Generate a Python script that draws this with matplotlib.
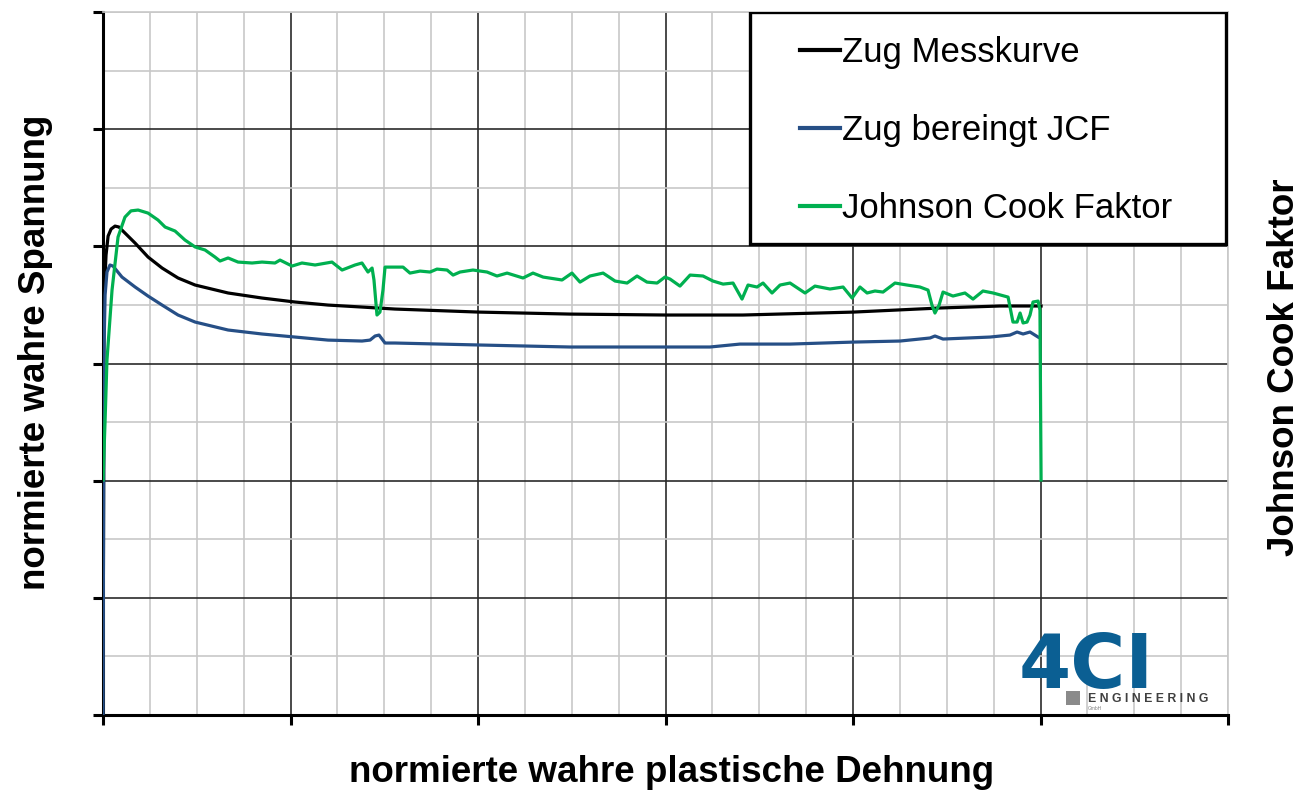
import numpy as np
import matplotlib
matplotlib.use("Agg")
import matplotlib.pyplot as plt
from matplotlib.patches import Rectangle

plt.rcParams['font.family'] = ['Liberation Sans', 'DejaVu Sans']

# normierte Werte (Achsen ohne Beschriftung, 0..6 Einheiten)
zug_x = [0, 0.003, 0.005, 0.016, 0.027, 0.043, 0.064, 0.085, 0.101, 0.171, 0.240, 0.315,
         0.400, 0.491, 0.667, 0.848, 1.024, 1.200, 1.381, 1.557, 2.005, 2.491, 3.003,
         3.413, 4.000, 4.464, 4.784, 4.987, 5.003]
zug_y = [0, 1.835, 3.542, 3.926, 4.088, 4.148, 4.173, 4.165, 4.139, 4.028, 3.909, 3.815,
         3.730, 3.670, 3.602, 3.559, 3.525, 3.499, 3.482, 3.465, 3.439, 3.422, 3.414,
         3.414, 3.439, 3.474, 3.491, 3.491, 3.491]

jcf_korr_x = [0, 0.003, 0.005, 0.011, 0.021, 0.037, 0.053, 0.101, 0.171, 0.240, 0.315,
              0.400, 0.491, 0.667, 0.848, 1.024, 1.200, 1.381, 1.424, 1.451, 1.472, 1.504,
              1.557, 2.011, 2.491, 3.008, 3.237, 3.397, 3.664, 4.000, 4.251, 4.411, 4.437,
              4.480, 4.731, 4.837, 4.875, 4.907, 4.944, 4.987]
jcf_korr_y = [0, 1.835, 3.115, 3.585, 3.781, 3.841, 3.832, 3.738, 3.653, 3.576, 3.499,
              3.414, 3.354, 3.286, 3.252, 3.226, 3.200, 3.192, 3.200, 3.235, 3.243, 3.175,
              3.175, 3.158, 3.141, 3.141, 3.141, 3.166, 3.166, 3.183, 3.192, 3.218, 3.235,
              3.209, 3.226, 3.243, 3.269, 3.252, 3.269, 3.226]

jc_x = [0, 0.011, 0.021, 0.048, 0.080, 0.117, 0.149, 0.187, 0.240, 0.293, 0.331, 0.384,
        0.437, 0.491, 0.544, 0.597, 0.624, 0.667, 0.720, 0.795, 0.848, 0.917, 0.944,
        1.008, 1.061, 1.131, 1.221, 1.275, 1.344, 1.381, 1.413, 1.435, 1.445, 1.461,
        1.477, 1.493, 1.504, 1.600, 1.637, 1.691, 1.744, 1.781, 1.835, 1.867, 1.904,
        1.973, 2.048, 2.101, 2.155, 2.240, 2.293, 2.347, 2.448, 2.501, 2.544, 2.597,
        2.667, 2.731, 2.795, 2.848, 2.901, 2.955, 2.997, 3.024, 3.077, 3.131, 3.200,
        3.253, 3.307, 3.360, 3.387, 3.408, 3.440, 3.488, 3.520, 3.568, 3.611, 3.664,
        3.744, 3.797, 3.877, 3.947, 3.995, 4.037, 4.075, 4.117, 4.160, 4.224, 4.288,
        4.357, 4.400, 4.421, 4.437, 4.459, 4.480, 4.533, 4.597, 4.640, 4.693, 4.747,
        4.827, 4.853, 4.875, 4.891, 4.907, 4.928, 4.944, 4.960, 4.987, 4.997, 5.003]
jc_y = [2.006, 2.518, 3.030, 3.627, 4.080, 4.250, 4.303, 4.310, 4.284, 4.225, 4.165, 4.131,
        4.054, 3.995, 3.969, 3.909, 3.875, 3.901, 3.866, 3.858, 3.866, 3.858, 3.883,
        3.832, 3.858, 3.841, 3.866, 3.798, 3.841, 3.858, 3.781, 3.815, 3.713, 3.414,
        3.439, 3.627, 3.823, 3.823, 3.772, 3.789, 3.781, 3.806, 3.798, 3.755, 3.781,
        3.798, 3.781, 3.747, 3.772, 3.730, 3.772, 3.738, 3.713, 3.772, 3.695, 3.747,
        3.772, 3.704, 3.687, 3.747, 3.695, 3.687, 3.738, 3.721, 3.661, 3.755, 3.747,
        3.704, 3.678, 3.687, 3.610, 3.550, 3.670, 3.653, 3.687, 3.602, 3.670, 3.687,
        3.602, 3.661, 3.636, 3.653, 3.559, 3.653, 3.602, 3.619, 3.610, 3.687, 3.670,
        3.653, 3.627, 3.499, 3.431, 3.499, 3.610, 3.576, 3.602, 3.550, 3.619, 3.602,
        3.567, 3.354, 3.354, 3.431, 3.346, 3.354, 3.414, 3.525, 3.533, 3.456, 2.006]

labels = ["Zug Messkurve", "Zug bereingt JCF", "Johnson Cook Faktor"]
farben = ["#000000", "#264f86", "#00b050"]

fig = plt.figure(figsize=(13.01, 7.92), dpi=100)
ax = fig.add_axes([0.0792, 0.0972, 0.8647, 0.8876])
ax2 = ax.twinx()

ax.set_xlim(0, 6)
ax.set_ylim(0, 6)
ax2.set_ylim(0, 6)

# Gitter
ax.set_xticks(np.arange(0, 7, 1))
ax.set_yticks(np.arange(0, 7, 1))
ax.set_xticks(np.arange(0, 6.01, 0.25), minor=True)
ax.set_yticks(np.arange(0, 6.01, 0.5), minor=True)
ax.grid(which='minor', color='#c8c8c8', lw=1.2)
ax.grid(which='major', color='#2a2a2a', lw=1.2)
ax.get_xgridlines()[-1].set_color('#c8c8c8')
ax.get_ygridlines()[-1].set_color('#c8c8c8')
ax.set_axisbelow(True)
ax.tick_params(which='major', direction='out', length=7, width=2.2,
               labelbottom=False, labelleft=False)
ax.tick_params(which='minor', length=0)
for s in ['left', 'bottom']:
    ax.spines[s].set_linewidth(2.2)
    ax.spines[s].set_color('black')
for s in ['top', 'right']:
    ax.spines[s].set_color('#c8c8c8')
    ax.spines[s].set_linewidth(1.2)
for s in ax2.spines.values():
    s.set_visible(False)
ax2.set_yticks([])

l1, = ax.plot(zug_x, zug_y, color=farben[0], lw=2.3, label=labels[0], zorder=3)
l2, = ax.plot(jcf_korr_x, jcf_korr_y, color=farben[1], lw=2.3, label=labels[1], zorder=4)
l3, = ax2.plot(jc_x, jc_y, color=farben[2], lw=2.3, label=labels[2], zorder=3)

# Achsentitel
fig.text(672 / 1301, 1 - 772 / 792, "normierte wahre plastische Dehnung", fontsize=26.5,
         fontweight='bold', ha='center', va='center')
fig.text(36 / 1301, 1 - 352 / 792, "normierte wahre Spannung", fontsize=26.5,
         fontweight='bold', rotation=90, ha='center', va='center')
fig.text(1284 / 1301, 1 - 367 / 792, "Johnson Cook Faktor", fontsize=26.5,
         fontweight='bold', rotation=90, ha='center', va='center')

# Legende mit Rahmen
rahmen = Rectangle((0.575, 0.670), 0.423, 0.330, transform=ax.transAxes,
                   facecolor='white', edgecolor='black', lw=2.4, zorder=10)
ax2.add_patch(rahmen)
leg = ax2.legend([l1, l2, l3], labels, loc='upper left', bbox_to_anchor=(0.607, 0.985),
                 frameon=False, fontsize=25, handlelength=1.15, handletextpad=0.08,
                 labelspacing=1.29, borderaxespad=0)
leg.set_zorder(11)
for line in leg.get_lines():
    line.set_linewidth(3)

# Logo
fig.text(0.783, 1 - 688 / 792, "4CI", fontsize=54, fontweight='heavy', color='#0b5f93',
         family='DejaVu Sans', ha='left', va='baseline')
fig.patches.append(Rectangle((0.8195, 0.110), 0.0108, 0.017, transform=fig.transFigure,
                             facecolor='#8a8a8a', edgecolor='none'))
fig.text(0.836, 0.118, "E N G I N E E R I N G", fontsize=8.8, fontweight='bold',
         color='#404040', ha='left', va='center')
fig.text(0.836, 0.105, "GmbH", fontsize=3.5, color='#808080', ha='left', va='center')

fig.savefig("out.png", dpi=100)
